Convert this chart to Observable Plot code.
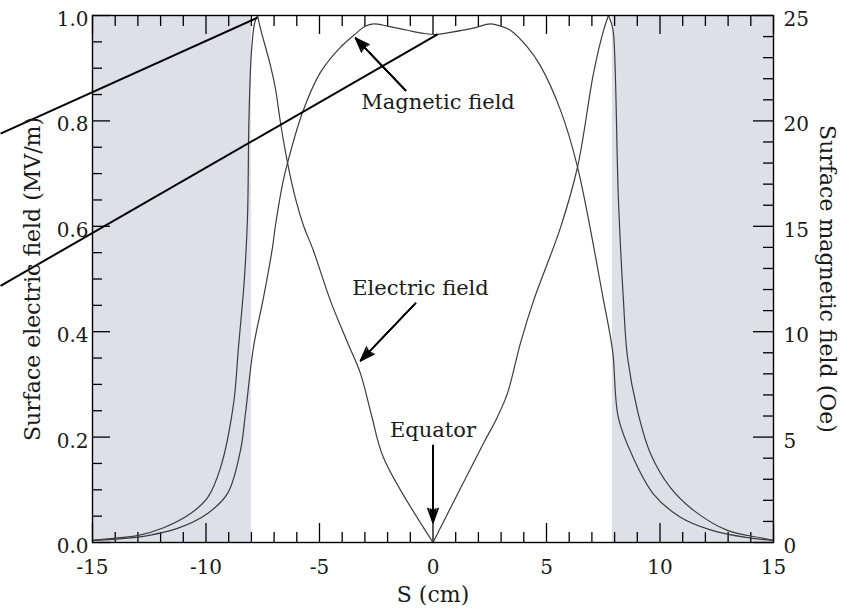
<!DOCTYPE html>
<html><head><meta charset="utf-8">
<script src="https://cdn.jsdelivr.net/npm/d3@7"></script>
<script src="https://cdn.jsdelivr.net/npm/@observablehq/plot@0.6"></script>
<style>
body{margin:0;background:#fff;}
#chart svg{display:block;overflow:visible;}
#chart svg, #chart svg text{font-family:"DejaVu Serif",serif !important;}
</style></head><body><div id="chart"></div>
<script>
// Surface electric field (MV/m) vs S (cm)
const eS = [-15, -14.07, -13.02, -11.87, -10.68, -9.93, -9.36, -8.79, -8.57, -8.31, -8.17, -8.11, -8.0, -7.86, -7.73, -7.6, -7.16, -6.94, -6.72, -6.41, -6.06, -5.71, -5.27, -4.52, -3.77, -3.19, -2.7, -2.18, 0,
            2.22, 2.8, 3.28, 3.85, 4.43, 5.62, 6.37, 7.07, 7.5, 7.73, 7.86, 7.95, 8.17, 8.39, 8.57, 9.01, 9.58, 10.46, 11.48, 12.97, 14.43, 15];
const eV = [0.004, 0.008, 0.013, 0.028, 0.055, 0.085, 0.142, 0.262, 0.37, 0.50, 0.62, 0.80, 0.93, 0.985, 1.0, 0.975, 0.905, 0.861, 0.797, 0.721, 0.653, 0.602, 0.554, 0.459, 0.38, 0.32, 0.24, 0.161, 0,
            0.188, 0.235, 0.283, 0.378, 0.459, 0.598, 0.713, 0.89, 0.97, 1.0, 0.985, 0.966, 0.649, 0.459, 0.351, 0.25, 0.169, 0.104, 0.061, 0.023, 0.009, 0.004];
// Surface magnetic field (Oe) vs S (cm)
const hS = [-15, -14.07, -12.56, -11.23, -9.93, -9.05, -8.48, -8.26, -7.91, -7.47, -7.07, -6.94, -6.59, -6.41, -5.75, -4.96, -4.07, -3.5, -2.97, -2.62, -2.0, -1.12, -0.42, 0.11, 0.77, 1.78, 2.53, 2.97, 3.41, 4.16, 4.74, 5.62, 6.37, 7.51, 7.91, 8.17, 8.83, 9.71, 10.9, 12.22, 13.85, 15];
const hV = [0.1, 0.15, 0.33, 0.68, 1.38, 2.33, 4.38, 6.13, 9.25, 11.6, 14.0, 15.05, 17.2, 18.0, 20.4, 22.3, 23.5, 24.05, 24.5, 24.6, 24.5, 24.3, 24.15, 24.1, 24.2, 24.4, 24.6, 24.5, 24.3, 23.5, 22.6, 20.5, 17.8, 11.5, 9.1, 5.9, 4.0, 2.3, 1.2, 0.6, 0.23, 0.1];

// shaded regions
const shadeX1 = [-15, 7.9];
const shadeX2 = [-8, 15];

// ticks
const xMajor = [-15, -10, -5, 0, 5, 10, 15];
const xMinor = [-14, -13, -12, -11, -9, -8, -7, -6, -4, -3, -2, -1, 1, 2, 3, 4, 6, 7, 8, 9, 11, 12, 13, 14];
const yLeftMajor = [0, 0.2, 0.4, 0.6, 0.8, 1.0];
const yLeftMinor = [0.05, 0.1, 0.15, 0.25, 0.3, 0.35, 0.45, 0.5, 0.55, 0.65, 0.7, 0.75, 0.85, 0.9, 0.95];
const yRightMajor = [0, 5, 10, 15, 20, 25];
const yRightMinor = [1, 2, 3, 4, 6, 7, 8, 9, 11, 12, 13, 14, 16, 17, 18, 19, 21, 22, 23, 24];
const hMax = 25;

// break points where the electric-field curve has sharp corners
const eBreaks = [-7.73, 0, 7.73];

// titles
const xTitle = "S (cm)";
const yLeftTitle = "Surface electric field (MV/m)";
const yRightTitle = "Surface magnetic field (Oe)";

// annotations
const annText = ["Magnetic field", "Electric field", "Equator"];
const annX = [0.22, -0.55, 0];
const annY = [0.835, 0.482, 0.2125];
const arrX1 = [-1.21, -0.77, 0];
const arrY1 = [0.858, 0.454, 0.184];
const arrX2 = [-3.41, -3.19, 0];
const arrY2 = [0.957, 0.345, 0.038];
const arrColor = ["#777", "#777", "#000"];

// overlaid straight lines
const segX1 = [-19.05, -19.05];
const segY1 = [0.776, 0.487];
const segX2 = [-7.73, 0.2];
const segY2 = [0.996, 0.964];

const W = 848, H = 615, mL = 92, mR = 75, mT = 15, mB = 73;
const plotW = W - mL - mR, plotH = H - mT - mB;

// split E into pieces between its corners so the smooth curve keeps them sharp
const eData = [];
const edges = [-Infinity, ...eBreaks, Infinity];
for (let k = 0; k < edges.length - 1; k++) {
  eS.forEach((s, i) => { if (s >= edges[k] && s <= edges[k + 1]) eData.push({s, v: eV[i], z: k}); });
}
const hData = hS.map((s, i) => ({s, v: hV[i]}));
const shade = shadeX1.map((x1, i) => ({x1, x2: shadeX2[i]}));
const ann = annText.map((t, i) => ({t, x: annX[i], y: annY[i]}));
const arrows = arrX1.map((x1, i) => ({x1, y1: arrY1[i], x2: arrX2[i], y2: arrY2[i], c: arrColor[i]}));
const segs = segX1.map((x1, i) => ({x1, y1: segY1[i], x2: segX2[i], y2: segY2[i]}));

const font = "DejaVu Serif";
const ink = "#1a1a1a";

const chart = Plot.plot({
  width: W, height: H,
  marginLeft: mL, marginRight: mR, marginTop: mT, marginBottom: mB,
  x: {domain: [-15, 15]},
  y: {domain: [0, 1]},
  style: {fontFamily: font, background: "white", color: ink},
  marks: [
    Plot.rect(shade, {x1: "x1", x2: "x2", y1: 0, y2: 1, fill: "#dde0e7"}),
    // ticks, inward on all four sides
    Plot.tickX(xMajor, {x: d => d, insetTop: plotH - 19, stroke: "#000", strokeWidth: 1.3}),
    Plot.tickX(xMinor, {x: d => d, insetTop: plotH - 10, stroke: "#000", strokeWidth: 1.3}),
    Plot.tickX(xMajor, {x: d => d, insetBottom: plotH - 19, stroke: "#000", strokeWidth: 1.3}),
    Plot.tickX(xMinor, {x: d => d, insetBottom: plotH - 11, stroke: "#000", strokeWidth: 1.3}),
    Plot.tickY(yLeftMajor, {y: d => d, insetRight: plotW - 18, stroke: "#000", strokeWidth: 1.3}),
    Plot.tickY(yLeftMinor, {y: d => d, insetRight: plotW - 10, stroke: "#000", strokeWidth: 1.3}),
    Plot.tickY(yRightMajor, {y: d => d / hMax, insetLeft: plotW - 20, stroke: "#000", strokeWidth: 1.3}),
    Plot.tickY(yRightMinor, {y: d => d / hMax, insetLeft: plotW - 10, stroke: "#000", strokeWidth: 1.3}),
    // tick labels
    Plot.axisX(xMajor, {tickSize: 0, tickPadding: 17, fontSize: 20, tickFormat: d => String(d), label: null, fill: ink}),
    Plot.axisY(yLeftMajor, {anchor: "left", tickSize: 0, tickPadding: 4, dy: 4, fontSize: 20, tickFormat: d3.format(".1f"), label: null, fill: ink}),
    Plot.axisY(yRightMajor.map(d => d / hMax), {anchor: "right", tickSize: 0, tickPadding: 10, dy: 4, fontSize: 20, tickFormat: d => String(Math.round(d * hMax)), label: null, fill: ink}),
    // curves
    Plot.line(eData, {x: "s", y: "v", z: "z", stroke: "#3c3c3c", strokeWidth: 1.2, curve: "catmull-rom"}),
    Plot.line(hData, {x: "s", y: d => d.v / hMax, stroke: "#3c3c3c", strokeWidth: 1.2, curve: "catmull-rom"}),
    Plot.frame({stroke: "#000", strokeWidth: 1.4}),
    // annotations
    Plot.arrow(arrows, {x1: "x1", y1: "y1", x2: "x2", y2: "y2", stroke: "c", strokeWidth: 1.3, headLength: 0}),
    Plot.arrow(arrows, {x1: "x1", y1: "y1", x2: "x2", y2: "y2", stroke: "#000", strokeWidth: 1.6, headLength: 14, headAngle: 40}),
    Plot.arrow(arrows, {x1: "x1", y1: "y1", x2: "x2", y2: "y2", stroke: "#000", strokeWidth: 1.6, headLength: 13, headAngle: 25}),
    Plot.arrow(arrows, {x1: "x1", y1: "y1", x2: "x2", y2: "y2", stroke: "#000", strokeWidth: 1.6, headLength: 12, headAngle: 12}),
    Plot.text(ann, {x: "x", y: "y", text: "t", fontSize: 21, fill: ink}),
    // overlaid straight lines
    Plot.link(segs, {x1: "x1", y1: "y1", x2: "x2", y2: "y2", stroke: "#000", strokeWidth: 2}),
    // axis titles
    Plot.text([xTitle], {frameAnchor: "bottom", dy: 59, fontSize: 22, fill: ink}),
    Plot.text([yLeftTitle], {frameAnchor: "left", textAnchor: "middle", dx: -60, rotate: -90, fontSize: 22, fill: ink}),
    Plot.text([yRightTitle], {frameAnchor: "right", textAnchor: "middle", dx: 54, rotate: 90, fontSize: 22, fill: ink})
  ]
});
document.getElementById("chart").appendChild(chart);
</script>
</body></html>
